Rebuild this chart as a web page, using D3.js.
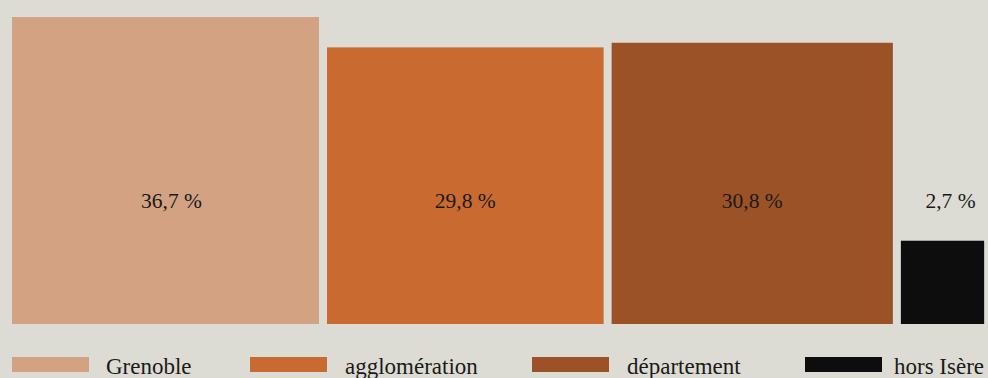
<!DOCTYPE html>
<html><head><meta charset="utf-8">
<script src="https://cdn.jsdelivr.net/npm/d3@7"></script>
<style>
html,body{margin:0;padding:0;background:#dcdcd5;overflow:hidden;}
svg{display:block;}
text{font-family:"Liberation Serif","DejaVu Serif",serif;fill:#1b1a18;}
</style></head>
<body>
<svg id="c" width="988" height="378"></svg>
<script>
const categories = ["Grenoble", "agglomération", "département", "hors Isère"];
const values = [36.7, 29.8, 30.8, 2.7];
const valueLabels = ["36,7 %", "29,8 %", "30,8 %", "2,7 %"];
const colors = ["#d3a283", "#c96a30", "#9b5227", "#0e0d0d"];

const W = 988, H = 378;
const svg = d3.select("#c");
svg.append("rect").attr("width", W).attr("height", H).attr("fill", "#dcdcd5");

const baseY = 324, left = 12, gap = 8;
// squares whose area is proportional to the share
const side = d3.scaleSqrt().domain([0, 36.7]).range([0, 307]);
const sides = values.map(v => side(v));
const xs = [];
sides.reduce((acc, s, i) => { xs[i] = acc; return acc + s + gap; }, left);

svg.selectAll("rect.bar").data(values).join("rect")
  .attr("class", "bar")
  .attr("x", (d, i) => xs[i])
  .attr("y", d => baseY - side(d))
  .attr("width", d => side(d))
  .attr("height", d => side(d))
  .attr("fill", (d, i) => colors[i]);

svg.selectAll("text.val").data(valueLabels).join("text")
  .attr("class", "val")
  .attr("x", (d, i) => xs[i] + sides[i] / 2 + (i === 3 ? 8 : i === 0 ? 6 : 0))
  .attr("y", 208)
  .attr("text-anchor", "middle")
  .attr("font-size", 21.5)
  .text(d => d);

// legend
const legendX = [12, 250, 532, 805];
const lg = svg.selectAll("g.lg").data(categories).join("g")
  .attr("class", "lg")
  .attr("transform", (d, i) => `translate(${legendX[i]},357)`);
lg.append("rect").attr("width", 77).attr("height", 15)
  .attr("fill", (d, i) => colors[i]);
lg.append("text").attr("x", (d, i) => i === 3 ? 89 : (i === 0 ? 94 : 95)).attr("y", 17)
  .attr("font-size", 23).text(d => d);
</script>
</body></html>
